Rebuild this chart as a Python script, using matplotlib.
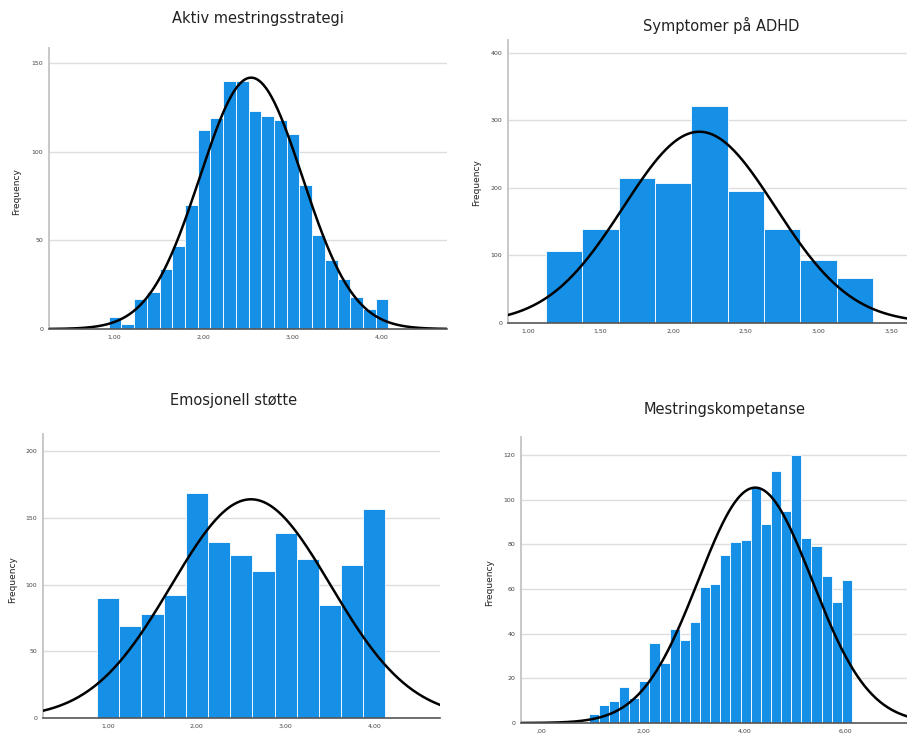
import numpy as np
import matplotlib
matplotlib.use("Agg")
import matplotlib.pyplot as plt
from math import sqrt, pi

# --- data (bin counts, bin start/width, fitted normal) ---
aktiv_counts = [7, 3, 17, 21, 34, 47, 70, 112, 119, 140, 140, 123, 120, 118,
                110, 81, 53, 39, 28, 18, 11, 17]
aktiv_start, aktiv_width = 0.94, 1 / 7.
aktiv_mean, aktiv_sd = 2.54, 0.574
aktiv_xticks = [1.0, 2.0, 3.0, 4.0]
aktiv_yticks = [0, 50, 100, 150]

adhd_counts = [106, 139, 214, 208, 322, 196, 139, 94, 67]
adhd_start, adhd_width = 1.125, 0.25
adhd_mean, adhd_sd = 2.18, 0.523
adhd_xticks = [1.0, 1.5, 2.0, 2.5, 3.0, 3.5]
adhd_yticks = [0, 100, 200, 300, 400]

emo_counts = [90, 69, 78, 92, 169, 132, 122, 110, 139, 119, 85, 115, 157]
emo_start, emo_width = 0.875, 0.25
emo_mean, emo_sd = 2.61, 0.898
emo_xticks = [1.0, 2.0, 3.0, 4.0]
emo_yticks = [0, 50, 100, 150, 200]

komp_counts = [4, 8, 10, 16, 11, 19, 36, 27, 42, 37, 45, 61, 62, 75, 81, 82,
               105, 89, 113, 95, 120, 83, 79, 66, 54, 64]
komp_start, komp_width = 0.93, 0.2
komp_mean, komp_sd = 4.22, 1.124
komp_xticks = [0.0, 2.0, 4.0, 6.0]
komp_yticks = [0, 20, 40, 60, 80, 100, 120]

W, H = 907., 735.
BLUE = '#1590e6'


def px_rect(left, top, right, bottom):
    return [left / W, 1 - bottom / H, (right - left) / W, (bottom - top) / H]


def tick_fmt(v):
    s = "%.2f" % v
    if s.startswith("0"):
        s = s[1:]
    return s.replace(".", ",")


def hist_panel(fig, rect, counts, start, width, mean, sd, xlim, ylim, xticks, yticks):
    ax = fig.add_axes(rect)
    counts = np.array(counts, dtype=float)
    lefts = start + width * np.arange(len(counts))
    ax.bar(lefts, counts, width=width, align='edge', color=BLUE,
           edgecolor='white', linewidth=0.6, zorder=2)

    # normal curve scaled to the histogram
    n = counts.sum()
    xs = np.linspace(xlim[0], xlim[1], 400)
    ys = n * width / (sd * sqrt(2 * pi)) * np.exp(-0.5 * ((xs - mean) / sd) ** 2)
    ax.plot(xs, ys, color='black', lw=1.8, zorder=3)

    ax.set_xlim(xlim)
    ax.set_ylim(ylim)
    ax.set_xticks(xticks)
    ax.set_xticklabels([tick_fmt(t) for t in xticks])
    ax.set_yticks(yticks)
    ax.set_yticklabels([str(t) for t in yticks])
    ax.tick_params(length=0, labelsize=4.5, colors='#444444', pad=4)
    for t in yticks[1:]:
        ax.axhline(t, color='#dddddd', lw=1.0, zorder=1)
    for side in ['top', 'right']:
        ax.spines[side].set_visible(False)
    ax.spines['left'].set_color('#c8c8c8')
    ax.spines['left'].set_linewidth(1.4)
    ax.spines['bottom'].set_color('#555555')
    ax.spines['bottom'].set_linewidth(1.2)
    ax.spines['bottom'].set_zorder(4)
    return ax


fig = plt.figure(figsize=(W / 100, H / 100), dpi=100)

hist_panel(fig, px_rect(49, 48, 447, 329), aktiv_counts, aktiv_start, aktiv_width,
           aktiv_mean, aktiv_sd, (0.27, 4.74), (0, 158.5), aktiv_xticks, aktiv_yticks)
hist_panel(fig, px_rect(508, 40, 907, 323), adhd_counts, adhd_start, adhd_width,
           adhd_mean, adhd_sd, (0.862, 3.61), (0, 419), adhd_xticks, adhd_yticks)
hist_panel(fig, px_rect(43, 434, 440, 718), emo_counts, emo_start, emo_width,
           emo_mean, emo_sd, (0.266, 4.74), (0, 213), emo_xticks, emo_yticks)
hist_panel(fig, px_rect(521, 437, 907, 723), komp_counts, komp_start, komp_width,
           komp_mean, komp_sd, (-0.41, 7.22), (0, 128), komp_xticks, komp_yticks)

titles = [("Aktiv mestringsstrategi", 258, 18), ("Symptomer på ADHD", 721, 25),
          ("Emosjonell støtte", 234, 401), ("Mestringskompetanse", 725, 410)]
for txt, x, y in titles:
    fig.text(x / W, 1 - y / H, txt, ha='center', va='center', fontsize=10.5, color='#222222')

for x, y in [(17, 192), (477, 183), (13, 580), (490, 583)]:
    fig.text(x / W, 1 - y / H, "Frequency", rotation=90, ha='center', va='center',
             fontsize=6.5, color='#222222')

fig.savefig("out.png", dpi=100)
